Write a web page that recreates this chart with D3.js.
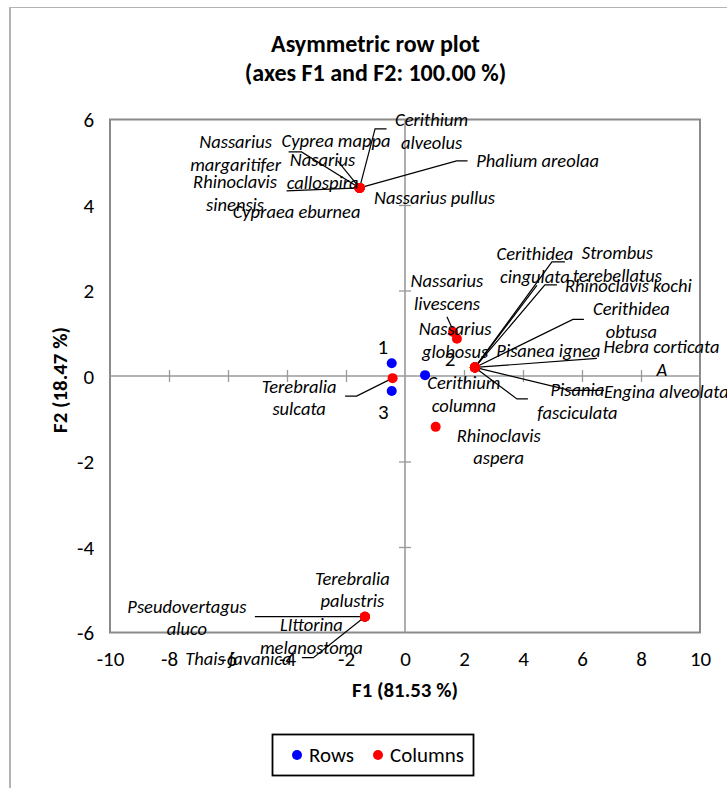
<!DOCTYPE html>
<html><head><meta charset="utf-8">
<script src="https://cdn.jsdelivr.net/npm/d3@7"></script>
<style>body{margin:0;background:#fff;} svg{display:block;}</style>
</head><body>
<svg id="c" width="727" height="788"></svg>
<script>
// ---------- data ----------
const rowNames = ["1", "2", "3"];
const rowF1 = [-0.45, 0.68, -0.45];
const rowF2 = [0.30, 0.02, -0.35];

const colNames = [
  "Nassarius margaritifer", "Cyprea mappa", "Nasarius callospira", "Cerithium alveolus",
  "Phalium areolaa", "Nassarius pullus", "Rhinoclavis sinensis", "Cypraea eburnea",
  "Nassarius livescens", "Nassarius globosus",
  "Cerithidea cingulata", "Strombus terebellatus", "Rhinoclavis kochi", "Cerithidea obtusa",
  "Pisanea ignea", "Hebra corticata", "A", "Engina alveolata", "Pisania fasciculata", "Cerithium columna",
  "Rhinoclavis aspera", "Terebralia sulcata",
  "Terebralia palustris", "Pseudovertagus aluco", "LIttorina melanostoma", "Thais javanica"
];
const colF1 = [
  -1.54, -1.54, -1.54, -1.54, -1.54, -1.54, -1.54, -1.54,
  1.76, 1.63,
  2.37, 2.37, 2.37, 2.37, 2.37, 2.37, 2.37, 2.37, 2.37, 2.37,
  1.04, -0.42,
  -1.36, -1.36, -1.36, -1.36
];
const colF2 = [
  4.40, 4.40, 4.40, 4.40, 4.40, 4.40, 4.40, 4.40,
  0.87, 1.03,
  0.20, 0.20, 0.20, 0.20, 0.20, 0.20, 0.20, 0.20, 0.20, 0.20,
  -1.19, -0.05,
  -5.63, -5.63, -5.63, -5.63
];

const xTickValues = [-10, -8, -6, -4, -2, 0, 2, 4, 6, 8, 10];
const yTickValues = [-6, -4, -2, 0, 2, 4, 6];
const titleLines = ["Asymmetric row plot", "(axes F1 and F2: 100.00 %)"];
const xTitle = "F1 (81.53 %)";
const yTitle = "F2 (18.47 %)";
const legendNames = ["Rows", "Columns"];

// ---------- label layout (pixel offsets from each point) ----------
const labelLayout = {
  "Nassarius margaritifer": {dx:-124, dy:-46, wrap:true, leader:[[-71,-36],[-58,-36],[0,0]]},
  "Cyprea mappa": {dx:-23.5, dy:-47},
  "Nasarius callospira": {dx:-37, dy:-28, wrap:true, leader:[[-22,-27],[0,0]]},
  "Cerithium alveolus": {dx:72, dy:-68, wrap:true, leader:[[27,-59],[15.5,-59],[0,0]]},
  "Phalium areolaa": {dx:178, dy:-27, leader:[[108,-27],[97,-27],[0,0]]},
  "Nassarius pullus": {dx:75, dy:10},
  "Rhinoclavis sinensis": {dx:-124.5, dy:-6, wrap:true, leader:[[-73,3],[0,0]]},
  "Cypraea eburnea": {dx:-63, dy:24},
  "Nassarius livescens": {dx:-10, dy:-58, wrap:true, leader:[[-10,-22],[0,0]]},
  "Nassarius globosus": {dx:2, dy:-3, wrap:true},
  "Cerithidea cingulata": {dx:60, dy:-113.5, wrap:true, leader:[[62,-82],[0,0]]},
  "Strombus terebellatus": {dx:142.5, dy:-114.5, wrap:true, leader:[[90,-105.5],[77,-105.5],[0,0]]},
  "Rhinoclavis kochi": {dx:153.5, dy:-81.5, leader:[[82,-82.5],[70,-82.5],[0,0]]},
  "Cerithidea obtusa": {dx:156.5, dy:-58.5, wrap:true, leader:[[109,-48],[98,-48],[0,0]]},
  "Pisanea ignea": {dx:73.5, dy:-17},
  "Hebra corticata": {dx:186.5, dy:-20.5, leader:[[122,-9],[0,0]]},
  "A": {dx:187, dy:2.5},
  "Engina alveolata": {dx:129, dy:24.5, anchor:"start", leader:[[129,23],[95,23],[0,0]]},
  "Pisania fasciculata": {dx:102.5, dy:22.5, wrap:true, leader:[[53,31.5],[42,31.5],[0,0]]},
  "Cerithium columna": {dx:-11, dy:15.5, wrap:true},
  "Rhinoclavis aspera": {dx:63, dy:8.5, wrap:true},
  "Terebralia sulcata": {dx:-93.5, dy:8.5, wrap:true, leader:[[-47.5,18],[-36,18],[0,0]]},
  "Terebralia palustris": {dx:-12.5, dy:-38.5, wrap:true},
  "Pseudovertagus aluco": {dx:-178, dy:-10, wrap:true, leader:[[-110,0],[0,0]]},
  "LIttorina melanostoma": {dx:-53.5, dy:8.3, wrap:true},
  "Thais javanica": {dx:-126.5, dy:42.3, leader:[[-63,41],[-51.5,41],[0,0]]}
};
const rowLabelLayout = {"1": {dx:-9, dy:-16.5}, "2": {dx:25, dy:-16}, "3": {dx:-8.5, dy:20.5}};

(function () {
// ---------- drawing ----------
const FONT = "Carlito, Lato, 'Open Sans', sans-serif";
const svg = d3.select("#c");
const W = 727, H = 788;
const pL = 110, pR = 700, pT = 119.5, pB = 632.5;
const x = d3.scaleLinear().domain([-10, 10]).range([pL, pR]);
const y = d3.scaleLinear().domain([-6, 6]).range([pB, pT]);
const fmt = d => String(d);

function fit(str, target, weight, style) {
  const t = svg.append("text").attr("font-family", FONT).attr("font-weight", weight || "normal")
    .attr("font-style", style || "normal").attr("font-size", 100).text(str);
  const w = t.node().getComputedTextLength();
  t.remove();
  return 100 * target / w;
}
const titleSize = fit(titleLines[0], 209, "bold");
const axisTitleSize = fit(xTitle, 106, "bold");
const labelSize = fit("Nassarius pullus", 121, "normal", "italic");
const tickSize = fit("Columns", 74, "normal");

// outer chart border
svg.append("line").attr("x1", 10).attr("x2", 10).attr("y1", 7).attr("y2", H)
  .attr("stroke", "#b3b3b3").attr("stroke-width", 2);
svg.append("line").attr("x1", 10).attr("x2", W).attr("y1", 7.5).attr("y2", 7.5)
  .attr("stroke", "#b3b3b3").attr("stroke-width", 1.2);

// title
svg.append("g").selectAll("text").data(titleLines).join("text")
  .attr("x", 375.5).attr("y", (d, i) => 44 + i * 29).attr("dy", "0.35em")
  .attr("text-anchor", "middle").attr("font-family", FONT).attr("font-weight", "bold")
  .attr("font-size", titleSize).text(d => d);

// plot box
svg.append("rect").attr("x", pL).attr("y", pT).attr("width", pR - pL).attr("height", pB - pT)
  .attr("fill", "none").attr("stroke", "#8a8a8a").attr("stroke-width", 2);

// zero axes lines
svg.append("line").attr("x1", pL).attr("x2", pR).attr("y1", y(0)).attr("y2", y(0))
  .attr("stroke", "#9a9a9a").attr("stroke-width", 1.6);
svg.append("line").attr("x1", x(0)).attr("x2", x(0)).attr("y1", pT).attr("y2", pB)
  .attr("stroke", "#9a9a9a").attr("stroke-width", 1.6);

// crossing tick marks on zero axes
const innerX = xTickValues.filter(v => v !== 0 && Math.abs(v) < 10);
const innerY = yTickValues.filter(v => v !== 0 && Math.abs(v) < 6);
const gxt = svg.append("g").attr("transform", `translate(0,${y(0) - 6})`)
  .call(d3.axisBottom(x).tickValues(innerX).tickSize(12).tickFormat(""));
gxt.select(".domain").remove();
gxt.selectAll("line").attr("stroke", "#9a9a9a").attr("stroke-width", 1.3);
const gyt = svg.append("g").attr("transform", `translate(${x(0) + 6},0)`)
  .call(d3.axisLeft(y).tickValues(innerY).tickSize(12).tickFormat(""));
gyt.select(".domain").remove();
gyt.selectAll("line").attr("stroke", "#9a9a9a").attr("stroke-width", 1.3);

// tick labels
const gxl = svg.append("g").attr("transform", `translate(0,${pB})`)
  .call(d3.axisBottom(x).tickValues(xTickValues).tickSize(0).tickFormat(fmt));
gxl.select(".domain").remove();
gxl.selectAll("text").attr("y", 26.5).attr("dy", "0.35em").attr("font-family", FONT)
  .attr("font-size", tickSize).attr("fill", "#000");
const gyl = svg.append("g").attr("transform", `translate(${pL},0)`)
  .call(d3.axisLeft(y).tickValues(yTickValues).tickSize(0).tickFormat(fmt));
gyl.select(".domain").remove();
gyl.selectAll("text").attr("x", -16).attr("dy", "0.35em").attr("font-family", FONT)
  .attr("font-size", tickSize).attr("fill", "#000");

// axis titles
svg.append("text").attr("x", 405).attr("y", 690).attr("dy", "0.35em").attr("text-anchor", "middle")
  .attr("font-family", FONT).attr("font-weight", "bold").attr("font-size", axisTitleSize).text(xTitle);
svg.append("text").attr("transform", "translate(60,380) rotate(-90)").attr("dy", "0.35em")
  .attr("text-anchor", "middle").attr("font-family", FONT).attr("font-weight", "bold")
  .attr("font-size", axisTitleSize).text(yTitle);

// data records
const cols = colNames.map((n, i) => ({name: n, f1: colF1[i], f2: colF2[i], lay: labelLayout[n]}));
const rows = rowNames.map((n, i) => ({name: n, f1: rowF1[i], f2: rowF2[i], lay: rowLabelLayout[n]}));

// leader lines
const lineGen = d3.line();
svg.append("g").selectAll("path").data(cols.filter(d => d.lay.leader)).join("path")
  .attr("d", d => lineGen(d.lay.leader.map(p => [x(d.f1) + p[0], y(d.f2) + p[1]])))
  .attr("fill", "none").attr("stroke", "#000").attr("stroke-width", 1.2);

// points
svg.append("g").selectAll("circle").data(rows).join("circle")
  .attr("cx", d => x(d.f1)).attr("cy", d => y(d.f2)).attr("r", 5).attr("fill", "#0000ff");
svg.append("g").selectAll("circle").data(cols).join("circle")
  .attr("cx", d => x(d.f1)).attr("cy", d => y(d.f2)).attr("r", 5).attr("fill", "#ff0000");

// column labels
const LH = 22.3;
const lg = svg.append("g").attr("font-family", FONT).attr("font-style", "italic").attr("font-size", labelSize);
cols.forEach(d => {
  const L = d.lay;
  const sp = d.name.indexOf(" ");
  const parts = L.wrap ? [d.name.slice(0, sp), d.name.slice(sp + 1)] : [d.name];
  lg.append("g").selectAll("text").data(parts).join("text")
    .attr("x", x(d.f1) + L.dx).attr("y", (p, i) => y(d.f2) + L.dy + i * LH).attr("dy", "0.35em")
    .attr("text-anchor", L.anchor || "middle").text(p => p);
});
// row labels
svg.append("g").selectAll("text").data(rows).join("text")
  .attr("x", d => x(d.f1) + d.lay.dx).attr("y", d => y(d.f2) + d.lay.dy).attr("dy", "0.35em")
  .attr("text-anchor", "middle").attr("font-family", FONT).attr("font-size", tickSize).text(d => d.name);

// legend
const leg = svg.append("g");
leg.append("rect").attr("x", 272.5).attr("y", 734.5).attr("width", 201).attr("height", 41)
  .attr("fill", "#fff").attr("stroke", "#000").attr("stroke-width", 1.8);
const legColors = ["#0000ff", "#ff0000"];
const legX = [297, 378];
legendNames.forEach((n, i) => {
  leg.append("circle").attr("cx", legX[i]).attr("cy", 755).attr("r", 5).attr("fill", legColors[i]);
  leg.append("text").attr("x", legX[i] + 12).attr("y", 755).attr("dy", "0.35em")
    .attr("font-family", FONT).attr("font-size", tickSize).text(n);
});
})();
</script>
</body></html>
